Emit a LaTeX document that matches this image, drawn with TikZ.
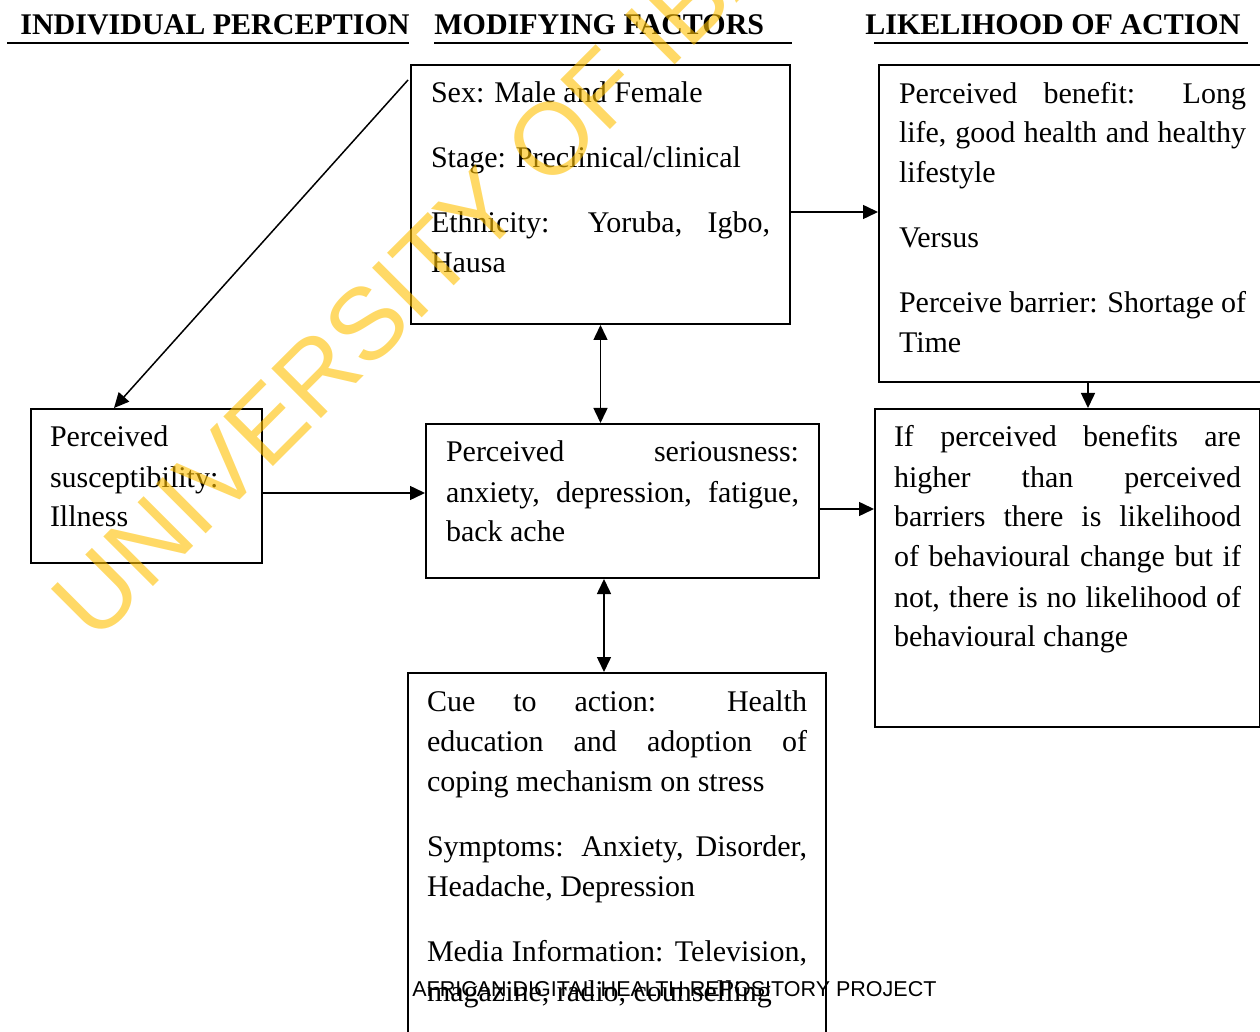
\documentclass[tikz,border=0pt]{standalone}
\usepackage{fontspec}
\setmainfont{Liberation Serif}
\newfontfamily\footfont{Liberation Sans}
\usetikzlibrary{arrows.meta}
\definecolor{wmyellow}{RGB}{255,192,0}
\newcommand{\boxpar}[3]{\parbox[c][#2][t]{#1}{\setlength{\parskip}{12.5pt}\rule{0pt}{19pt}#3}}

\begin{document}
\begin{tikzpicture}[x=0.5pt,y=-0.5pt,
  box/.style={draw, line width=1pt, inner xsep=10pt, inner ysep=0pt, anchor=north west, font=\fontsize{15}{20}\selectfont},
  head/.style={font=\fontsize{15}{18}\selectfont\bfseries, inner sep=0pt, anchor=base west},
  uline/.style={line width=1pt},
  arr/.style={-{Triangle[length=7.5pt,width=7pt]}, line width=0.75pt},
  dblarr/.style={{Triangle[length=7.5pt,width=7pt]}-{Triangle[length=7.5pt,width=7pt]}, line width=0.75pt},
  wmark/.style={text=wmyellow, opacity=0.6, font=\footfont\fontsize{51}{51}\selectfont, inner sep=0pt}]
\clip (0,0) rectangle (1260,1032);
% column headings
\node[head] (hind) at (20,35) {INDIVIDUAL PERCEPTION};
\node[head] (hmod) at (434,35) {MODIFYING FACTORS};
\node[head] (hlik) at (865,35) {LIKELIHOOD OF ACTION};
\draw[uline] (7,43) -- (409,43);
\draw[uline] (434,43) -- (792,43);
\draw[uline] (874,43) -- (1248,43);
% boxes
\node[box] (A) at (410,64) {\boxpar{169.5pt}{129.5pt}{Sex: Male and Female\par
  Stage: Preclinical/clinical\par
  Ethnicity: Yoruba, Igbo,\linebreak Hausa}};
\node[box] (B) at (878,64) {\boxpar{173.5pt}{158.5pt}{Perceived benefit: Long\linebreak
  life, good health and healthy\linebreak lifestyle\par
  Versus\par
  Perceive barrier: Shortage of\linebreak Time}};
\node[box, inner xsep=9.5pt] (C) at (30,408) {\boxpar{96.5pt}{77pt}{Perceived\\ susceptibility:\\ Illness}};
\node[box] (D) at (425,423) {\boxpar{176.5pt}{77pt}{Perceived seriousness:\linebreak
  anxiety, depression, fatigue,\linebreak back ache}};
\node[box, inner xsep=9.5pt] (E) at (874,408) {\boxpar{173.5pt}{159pt}{If perceived benefits are\linebreak
  higher than perceived\linebreak barriers there is likelihood\linebreak
  of behavioural change but if\linebreak not, there is no likelihood of\linebreak
  behavioural change}};
\node[box, inner xsep=9.5pt] (F) at (407,672) {\boxpar{190pt}{186.5pt}{Cue to action: Health\linebreak
  education and adoption of\linebreak coping mechanism on stress\par
  Symptoms: Anxiety, Disorder,\linebreak Headache, Depression\par
  Media Information: Television,\linebreak magazine, radio, counselling}};
% arrows
\coordinate (dg) at ([shift={(-1pt,-8pt)}]A.north west);
\draw[arr] (dg) -- ([xshift=-16.25pt]C.north);
\coordinate (cd) at ([yshift=-3.5pt]C.east);
\draw[arr] (cd) -- (cd -| D.west);
\draw[dblarr] (A.south) -- (A.south |- D.north);
\coordinate (ab) at ([yshift=-8.75pt]A.east);
\draw[arr] (ab) -- (ab -| B.west);
\coordinate (be) at ([xshift=7.75pt]B.south);
\draw[arr] (be) -- (be |- E.north);
\coordinate (de) at ([yshift=-4pt]D.east);
\draw[arr] (de) -- (de -| E.west);
\coordinate (df) at ([xshift=-9.25pt]D.south);
\draw[dblarr] (df) -- (df |- F.north);
% footer and watermark
\node[anchor=base west, inner sep=0pt, font=\footfont\fontsize{10.75}{12}\selectfont] (ftr) at (412,996) {AFRICAN DIGITAL HEALTH REPOSITORY PROJECT};
\node[wmark, rotate=45, anchor=base west] (wm) at (95,645) {UNIVERSITY OF IBADAN};
\end{tikzpicture}
\end{document}
